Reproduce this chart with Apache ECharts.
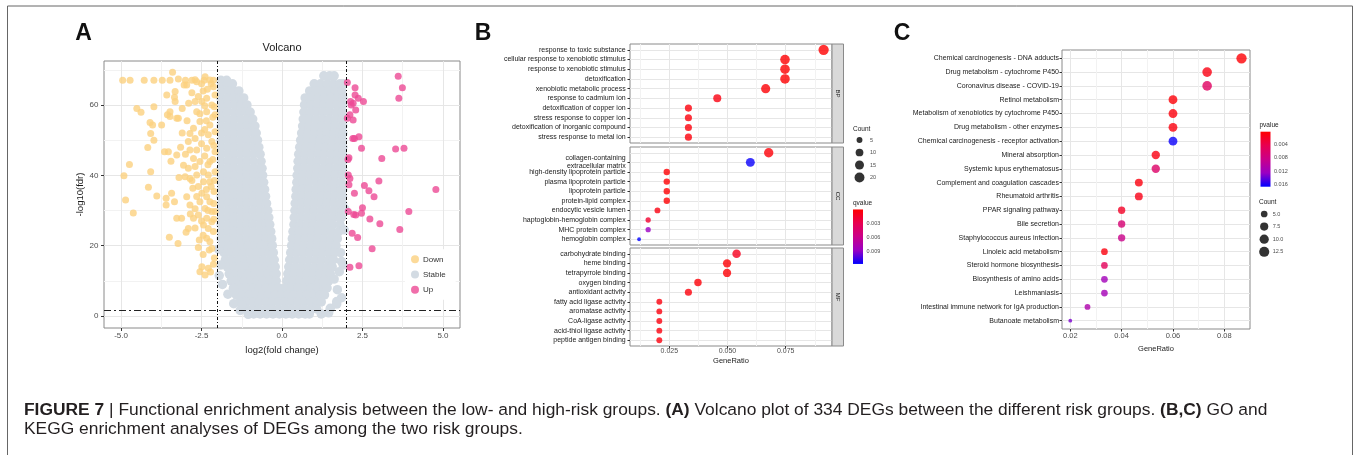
<!DOCTYPE html>
<html><head><meta charset="utf-8">
<script src="https://cdn.jsdelivr.net/npm/echarts@6/dist/echarts.min.js"></script>
<style>html,body{margin:0;padding:0;background:#fff}#c{width:1354px;height:455px}</style>
</head><body><div id="c"></div>
<script>
// ---------------- Panel A : volcano ----------------
const volcanoXTicks = [-5, -2.5, 0, 2.5, 5];
const volcanoXMinor = [-3.75, -1.25, 1.25, 3.75];
const volcanoYTicks = [0, 20, 40, 60];
const volcanoYMinor = [10, 30, 50, 70];
const fcCutoff = [-2, 2];
const fdrCutoff = 1.6;
const groupNames = ['Down', 'Stable', 'Up'];

const downPoints = [
[-4.95,67],[-4.72,67],[-4.28,67],[-3.98,67],[-3.72,67],[-3.48,67],[-3.22,67.4],[-3.0,67],[-2.8,67],[-2.7,67.2],[-2.42,67],[-2.13,67],[-3.4,69.3],[-2.96,65.7],[-2.65,66.6],[-2.39,68],[-2.2,66],
[-4.51,59],[-4.38,57.9],[-3.98,59.5],[-4.1,55],[-4.02,54.3],[-3.74,54.3],[-4.08,51.9],[-3.98,50],[-4.17,47.9],[-3.65,46.7],[-3.53,46.7],[-3.27,45.8],[-3.45,44],[-4.74,43.1],[-4.91,39.9],[-4.08,41],[-4.15,36.6],[-3.89,34.1],[-4.86,33],[-4.62,29.3],[-3.6,33.5],[-3.6,31.6],[-3.34,32.5],[-3.43,34.9],[-3.27,27.8],[-3.12,27.8],[-3.5,22.4],[-3.23,20.6],
[-3.58,62.8],[-3.34,62.2],[-3.32,61],[-3.48,58.1],[-3.56,57.2],[-3.48,56.7],[-3.27,56.2],[-3.22,56.2],[-3.32,63.8],[-3.04,65.7],
[-2.86,39.1],[-3.01,39.6],[-3.2,39.4],[-3.06,42.9],[-2.91,42],[-2.77,36.3],[-2.96,33.9],[-2.86,31.6],[-2.75,27.8],[-2.91,24.9],[-2.98,23.8],
[-2.55,12.6],[-2.29,13.6],[-2.39,11.7],[-2.49,14],[-2.13,14.7],[-2.26,18.8],[-2.18,19.2],[-2.57,21.6],[-2.34,22.1],
[-2.7,61],[-2.6,62.4],[-2.49,61],[-2.34,61.9],[-2.65,58.1],[-2.55,55.3],[-2.75,53.4],[-2.86,51.9],[-2.7,50.5],[-2.91,49.6],[-2.86,47.2],[-2.65,47.2],[-2.75,44.8],[-2.55,43.9],[-2.44,41],[-2.65,40.1],[-2.44,38.2],[-2.6,36.8],[-2.49,34.9],[-2.34,33.9],[-2.55,32.5],[-2.39,30.6],[-2.6,28.7],[-2.34,27.8],[-2.44,25.9],[-2.29,24.9],[-2.13,24],[-2.18,26.8],[-2.08,29.7],[-2.24,32.5],[-2.11,35.4],[-2.24,38.2],[-2.08,41],[-2.24,43.9],[-2.08,46.7],[-2.18,49.6],[-2.08,52.4],[-2.24,54.3],[-2.08,57.2],[-2.18,60],[-2.08,62.8],[-2.13,65.2],[-2.24,67.1],[-2.34,58.1],[-2.29,51.5],[-2.34,47.7],[-2.29,40.1],[-2.18,29.7],[-2.24,21.1],
[-2.1,16.5],[-2.45,17.5],[-2.6,19.5],[-2.15,44.5],[-2.4,45.5],[-2.5,49],[-2.4,53],[-2.55,57.5],[-2.45,64],[-2.8,63.5],[-2.9,60.5],[-3.1,59],[-2.95,55.5],[-3.1,52],[-3.15,48],[-3.0,46],[-2.7,42.5],[-2.8,38.5],[-2.65,34],[-2.7,30.5],[-2.85,29],[-2.5,27],[-2.7,25],[-2.35,36],[-2.15,56.5],[-2.12,32],[-2.32,64.5],[-2.1,38.5],[-2.3,43],[-2.12,48.5],[-2.35,55.5],[-2.1,59.5],[-2.4,59.8],[-2.5,52],[-2.2,36.8],[-2.45,23],[-2.3,30],[-2.12,27.5],[-2.22,12.5],[-2.5,66]
];

const upPoints = [
[3.61,68.2],[3.74,64.9],[3.63,61.9],[2.03,66.4],[2.27,64.9],[2.27,62.8],[2.37,61.9],[2.53,61],[2.13,61],[2.21,60.5],[2.29,58.6],[2.11,57.2],[2.21,55.7],[2.03,56.2],[2.25,50.5],[2.39,51],[2.47,47.7],[3.53,47.5],[3.79,47.7],[3.1,44.8],[2.08,45],[2.06,40.1],[2.11,39.1],[3.01,38.4],[2.56,37.1],[2.7,35.6],[2.86,33.9],[2.25,34.9],[2.08,37.3],[4.78,36],[3.94,29.7],[2.06,29.7],[2.23,28.9],[2.29,28.7],[2.5,30.8],[2.47,29.2],[2.73,27.6],[3.04,26.2],[3.66,24.6],[2.18,23.5],[2.35,22.3],[2.8,19.1],[2.11,13.9],[2.39,14.3],[2.15,60],[2.05,44.5],[2.2,50.5]
];

const stableRows = [
[68.3, 1.3, 1.48, 1.62],
[67, -1.9, -1.72],
[66, -1.88, -1.7, -1.54, 1.0, 1.2, 1.41, 1.6, 1.8, 1.9],
[64, -1.88, -1.67, -1.48, -1.34, 0.86, 1.05, 1.26, 1.45, 1.66, 1.86],
[62, -1.9, -1.7, -1.5, -1.31, -1.19, 0.72, 0.92, 1.12, 1.31, 1.52, 1.72, 1.89],
[60, -1.87, -1.68, -1.47, -1.27, -1.09, 0.7, 0.9, 1.1, 1.3, 1.49, 1.7, 1.88],
[58, -1.89, -1.7, -1.49, -1.3, -1.1, -0.99, 0.68, 0.88, 1.08, 1.27, 1.48, 1.68, 1.87],
[56, -1.88, -1.68, -1.48, -1.28, -1.08, -0.91, 0.66, 0.86, 1.06, 1.26, 1.46, 1.66, 1.86],
[54, -1.89, -1.69, -1.49, -1.29, -1.09, -0.9, -0.84, 0.64, 0.84, 1.04, 1.24, 1.44, 1.64, 1.84, 1.89],
[52, -1.88, -1.68, -1.48, -1.28, -1.08, -0.88, -0.8, 0.61, 0.81, 1.01, 1.21, 1.41, 1.61, 1.81, 1.89],
[50, -1.89, -1.69, -1.49, -1.29, -1.09, -0.89, -0.76, 0.58, 0.78, 0.98, 1.18, 1.38, 1.58, 1.78, 1.88],
[48, -1.88, -1.68, -1.48, -1.28, -1.08, -0.88, -0.72, 0.55, 0.75, 0.95, 1.15, 1.35, 1.55, 1.75, 1.89],
[46, -1.89, -1.69, -1.49, -1.29, -1.09, -0.89, -0.68, 0.52, 0.72, 0.92, 1.12, 1.32, 1.52, 1.72, 1.88],
[44, -1.88, -1.68, -1.48, -1.28, -1.08, -0.88, -0.65, 0.5, 0.7, 0.9, 1.1, 1.3, 1.5, 1.7, 1.89],
[42, -1.89, -1.69, -1.49, -1.29, -1.09, -0.89, -0.7, -0.62, 0.49, 0.68, 0.88, 1.08, 1.28, 1.48, 1.68, 1.88],
[40, -1.88, -1.68, -1.48, -1.28, -1.08, -0.88, -0.68, -0.6, 0.47, 0.66, 0.86, 1.06, 1.26, 1.46, 1.66, 1.86, 1.89],
[38, -1.89, -1.69, -1.49, -1.29, -1.09, -0.89, -0.69, -0.57, 0.46, 0.65, 0.85, 1.05, 1.25, 1.45, 1.65, 1.85],
[36, -1.88, -1.68, -1.48, -1.28, -1.08, -0.88, -0.68, -0.54, 0.44, 0.64, 0.84, 1.04, 1.24, 1.44, 1.64, 1.84, 1.89],
[34, -1.89, -1.69, -1.49, -1.29, -1.09, -0.89, -0.69, -0.51, 0.43, 0.63, 0.83, 1.03, 1.23, 1.43, 1.63, 1.83, 1.88],
[32, -1.88, -1.68, -1.48, -1.28, -1.08, -0.88, -0.68, -0.48, 0.41, 0.61, 0.81, 1.01, 1.21, 1.41, 1.61, 1.81, 1.88],
[30, -1.89, -1.69, -1.49, -1.29, -1.09, -0.89, -0.69, -0.49, -0.44, 0.4, 0.6, 0.8, 1.0, 1.2, 1.4, 1.6, 1.8, 1.87],
[28, -1.88, -1.68, -1.48, -1.28, -1.08, -0.88, -0.68, -0.48, -0.41, 0.38, 0.58, 0.78, 0.98, 1.18, 1.38, 1.58, 1.78, 1.85],
[26, -1.89, -1.69, -1.49, -1.29, -1.09, -0.89, -0.69, -0.49, -0.38, 0.37, 0.57, 0.77, 0.97, 1.17, 1.37, 1.57, 1.8],
[24, -1.88, -1.68, -1.48, -1.28, -1.08, -0.88, -0.68, -0.48, -0.35, 0.34, 0.54, 0.74, 0.94, 1.14, 1.34, 1.54, 1.76],
[22, -1.89, -1.69, -1.49, -1.29, -1.09, -0.89, -0.69, -0.49, -0.32, 0.32, 0.52, 0.72, 0.92, 1.12, 1.32, 1.52, 1.72],
[20, -1.85, -1.65, -1.45, -1.25, -1.05, -0.85, -0.65, -0.45, -0.3, 0.3, 0.5, 0.7, 0.9, 1.1, 1.3, 1.5, 1.68],
[18, -1.8, -1.6, -1.4, -1.2, -1.0, -0.8, -0.6, -0.4, -0.27, 0.27, 0.47, 0.67, 0.87, 1.07, 1.27, 1.47, 1.64],
[16, -1.76, -1.56, -1.36, -1.16, -0.96, -0.76, -0.56, -0.36, -0.24, 0.24, 0.44, 0.64, 0.84, 1.04, 1.24, 1.44, 1.6],
[14, -1.7, -1.5, -1.3, -1.1, -0.9, -0.7, -0.5, -0.3, -0.21, 0.21, 0.41, 0.61, 0.81, 1.01, 1.21, 1.41, 1.56],
[12, -1.64, -1.44, -1.24, -1.04, -0.84, -0.64, -0.44, -0.24, -0.18, 0.18, 0.38, 0.58, 0.78, 0.98, 1.18, 1.38, 1.5],
[10, -1.58, -1.38, -1.18, -0.98, -0.78, -0.58, -0.38, -0.18, 0.15, 0.35, 0.55, 0.75, 0.95, 1.15, 1.35, 1.45],
[8, -1.5, -1.3, -1.1, -0.9, -0.7, -0.5, -0.3, -0.1, 0.1, 0.3, 0.5, 0.7, 0.9, 1.1, 1.3, 1.4],
[6, -1.42, -1.22, -1.02, -0.82, -0.62, -0.42, -0.22, -0.02, 0.18, 0.38, 0.58, 0.78, 0.98, 1.18, 1.32],
[4, -1.3, -1.1, -0.9, -0.7, -0.5, -0.3, -0.1, 0.1, 0.3, 0.5, 0.7, 0.9, 1.1, 1.22],
[2, -1.12, -0.92, -0.72, -0.52, -0.32, -0.12, 0.08, 0.28, 0.48, 0.68, 0.88, 1.08],
[0.6, -0.88, -0.68, -0.48, -0.28, -0.08, 0.12, 0.32, 0.52, 0.72, 0.85]
];
const stableExtra = [
[1.62,10.5],[1.72,7.5],[1.85,5.2],[1.7,3.4],[1.5,2.2],[1.45,0.9],[1.22,0.6],[-1.5,3.5],[-1.68,6.2],[-1.85,9],[-1.3,1.6],[-1.05,0.5],
[1.93,24.5],[1.9,14.5],[1.82,18],[1.95,30.5],[-1.95,11.5],[-1.9,14.5],[-1.97,19],[1.78,12.6],[1.7,4.1],[1.28,9.8],[1.85,15.5],[-1.51,7.9],[-1.25,3.1]
];

// ---------------- Panel B : GO dot plot ----------------
const bpTerms = ['response to toxic substance','cellular response to xenobiotic stimulus','response to xenobiotic stimulus','detoxification','xenobiotic metabolic process','response to cadmium ion','detoxification of copper ion','stress response to copper ion','detoxification of inorganic compound','stress response to metal ion'];
const bpRatio = [0.0913,0.0747,0.0747,0.0747,0.0664,0.0456,0.0332,0.0332,0.0332,0.0332];
const bpCount = [22,18,18,18,16,11,8,8,8,8];
const bpQ = [0.00002,0.0001,0.0001,0.0001,0.0002,0.0006,0.0004,0.0004,0.0004,0.0004];

const ccTerms = ['blood microparticle','collagen-containing\nextracellular matrix','high-density lipoprotein particle','plasma lipoprotein particle','lipoprotein particle','protein-lipid complex','endocytic vesicle lumen','haptoglobin-hemoglobin complex','MHC protein complex','hemoglobin complex'];
const ccRatio = [0.0677,0.0598,0.0239,0.0239,0.0239,0.0239,0.0199,0.0159,0.0159,0.0120];
const ccCount = [17,15,6,6,6,6,5,4,4,3];
const ccQ = [0.0003,0.0116,0.0001,0.0001,0.0001,0.0001,0.0006,0.0017,0.0088,0.0118];

const mfTerms = ['carbohydrate binding','heme binding','tetrapyrrole binding','oxygen binding','antioxidant activity','fatty acid ligase activity','aromatase activity','CoA-ligase activity','acid-thiol ligase activity','peptide antigen binding'];
const mfRatio = [0.0539,0.0498,0.0498,0.0373,0.0332,0.0207,0.0207,0.0207,0.0207,0.0207];
const mfCount = [13,12,12,9,8,5,5,5,5,5];
const mfQ = [0.0011,0.0002,0.0002,0.0003,0.0004,0.0005,0.0005,0.0005,0.0005,0.0005];

const goFacets = ['BP','CC','MF'];
const goXTicks = [0.025, 0.05, 0.075];
const goXMinor = [0.0125, 0.0375, 0.0625, 0.0875];
const qvalueRange = [0, 0.0118];
const qvalueTicks = [0.003, 0.006, 0.009];
const goCountBreaks = [5, 10, 15, 20];

// ---------------- Panel C : KEGG dot plot ----------------
const keggTerms = ['Chemical carcinogenesis - DNA adducts','Drug metabolism - cytochrome P450','Coronavirus disease - COVID-19','Retinol metabolism','Metabolism of xenobiotics by cytochrome P450','Drug metabolism - other enzymes','Chemical carcinogenesis - receptor activation','Mineral absorption','Systemic lupus erythematosus','Complement and coagulation cascades','Rheumatoid arthritis','PPAR signaling pathway','Bile secretion','Staphylococcus aureus infection','Linoleic acid metabolism','Steroid hormone biosynthesis','Biosynthesis of amino acids','Leishmaniasis','Intestinal immune network for IgA production','Butanoate metabolism'];
const keggRatio = [0.0867,0.0733,0.0733,0.06,0.06,0.06,0.06,0.0533,0.0533,0.0467,0.0467,0.04,0.04,0.04,0.0333,0.0333,0.0333,0.0333,0.0267,0.02];
const keggCount = [13,11,11,9,9,9,9,8,8,7,7,6,6,6,5,5,5,5,4,3];
const keggP = [0.0005,0.0012,0.0055,0.0006,0.0008,0.0010,0.0163,0.0012,0.0060,0.0010,0.0014,0.0022,0.0068,0.0085,0.0010,0.0050,0.0118,0.0116,0.0108,0.0133];
const keggXTicks = [0.02, 0.04, 0.06, 0.08];
const keggXMinor = [0.03, 0.05, 0.07];
const pvalueRange = [0.00026, 0.0166];
const pvalueTicks = [0.004, 0.008, 0.012, 0.016];
const keggCountBreaks = [5, 7.5, 10, 12.5];

// ---------------- build ----------------
const FONT = '"Liberation Sans", Arial, Helvetica, sans-serif';
const GRAD = ['#ff0000','#e80050','#ca0089','#9a00c3','#0000ff'];
const BORDER = '#8a8a8a', MAJOR = '#e6e6e6', MINOR = '#f2f2f2', TICKTXT = '#4d4d4d';
const NOLINE = {show:false, onZero:false};

const stablePoints = [];
stableRows.forEach(r => { for (let i = 1; i < r.length; i++) stablePoints.push([r[i], r[0]]); });
stableExtra.forEach(p => stablePoints.push(p));

function sizeScale(counts){
  const mn = Math.min(...counts), mx = Math.max(...counts);
  return c => 2.5 + 1.3 * (1 + 5 * Math.sqrt(Math.max(0, (c - mn) / (mx - mn))));
}
const goAll = bpCount.concat(ccCount, mfCount);
const sizeB = sizeScale(goAll);
const sizeC = sizeScale(keggCount);

function rowsData(ratio, count, q){ return ratio.map((r, i) => [r, i, count[i], q[i]]); }

function hidden(extra){ return Object.assign({axisLine:NOLINE, axisTick:{show:false}, axisLabel:{show:false}, splitLine:{show:false}}, extra); }

function majorX(grid, min, max, ticks, showLabels, fmt, extra){
  return Object.assign({
    gridIndex:grid, type:'value', min:min, max:max,
    axisLine:NOLINE,
    axisTick:{show:showLabels, customValues:ticks, length:2.5, lineStyle:{color:'#333'}},
    axisLabel:{show:showLabels, customValues:ticks, formatter:fmt, fontSize:7, color:TICKTXT, fontFamily:FONT, margin:1.8},
    splitLine:{show:true, lineStyle:{color:MAJOR, width:1}}
  }, extra || {});
}
function minorX(grid, min, max, ticks){
  return {gridIndex:grid, type:'value', min:min, max:max, axisLine:NOLINE, axisLabel:{show:false},
    axisTick:{show:false, customValues:ticks}, splitLine:{show:true, lineStyle:{color:MINOR, width:1}}};
}
function catY(grid, terms, margin){
  const idx = terms.map((t, i) => i);
  return {gridIndex:grid, type:'value', inverse:true, min:-0.6, max:terms.length - 0.4,
    axisLine:NOLINE,
    axisTick:{show:true, customValues:idx, length:2.5, lineStyle:{color:'#333'}},
    axisLabel:{show:true, customValues:idx, formatter:v => terms[Math.round(v)], fontSize:7, lineHeight:8, color:'#1a1a1a', fontFamily:FONT, margin:margin},
    splitLine:{show:true, lineStyle:{color:MAJOR, width:1}}};
}

const gridBase = {show:true, borderColor:BORDER, borderWidth:1, backgroundColor:'transparent', containLabel:false};
const Bleft = 630, Bwidth = 202;
const facetBox = [[44, 99], [147, 98], [248, 98]];

const grids = [
  Object.assign({left:104, top:61, width:356, height:267}, gridBase),          // 0 volcano
  Object.assign({left:Bleft, top:facetBox[0][0], width:Bwidth, height:facetBox[0][1]}, gridBase), // 1 BP
  Object.assign({left:Bleft, top:facetBox[1][0], width:Bwidth, height:facetBox[1][1]}, gridBase), // 2 CC
  Object.assign({left:Bleft, top:facetBox[2][0], width:Bwidth, height:facetBox[2][1]}, gridBase), // 3 MF
  Object.assign({left:1062, top:50, width:188, height:279}, gridBase),         // 4 KEGG
  {left:853, top:209.45, width:10, height:54.5, show:false},                    // 5 q colorbar
  {left:1260.5, top:131.7, width:10, height:55, show:false},                    // 6 p colorbar
  {left:850, top:133.75, width:19, height:50, show:false},                      // 7 B count legend
  {left:1256.7, top:207.7, width:15, height:50.4, show:false}                   // 8 C count legend
];

const xMinB = 0.0081, xMaxB = 0.0949, xMinC = 0.01677, xMaxC = 0.09;

const xAxes = [
  majorX(0, -5.53, 5.53, volcanoXTicks, true, v => v.toFixed(1), {
    axisLabel:{show:true, customValues:volcanoXTicks, formatter:v => v.toFixed(1), fontSize:8, color:TICKTXT, fontFamily:FONT, margin:4},
    axisTick:{show:true, customValues:volcanoXTicks, length:3, lineStyle:{color:'#333'}},
    name:'log2(fold change)', nameLocation:'middle', nameGap:13, nameTextStyle:{fontSize:9.5, color:'#1a1a1a', fontFamily:FONT}}),
  minorX(0, -5.53, 5.53, volcanoXMinor),
  majorX(1, xMinB, xMaxB, goXTicks, false, v => v.toFixed(3)),
  minorX(1, xMinB, xMaxB, goXMinor),
  majorX(2, xMinB, xMaxB, goXTicks, false, v => v.toFixed(3)),
  minorX(2, xMinB, xMaxB, goXMinor),
  majorX(3, xMinB, xMaxB, goXTicks, true, v => v.toFixed(3), {name:'GeneRatio', nameLocation:'middle', nameGap:11, nameTextStyle:{fontSize:7.5, color:'#1a1a1a', fontFamily:FONT}}),
  minorX(3, xMinB, xMaxB, goXMinor),
  majorX(4, xMinC, xMaxC, keggXTicks, true, v => v.toFixed(2), {
    axisLabel:{show:true, customValues:keggXTicks, formatter:v => v.toFixed(2), fontSize:7.5, color:TICKTXT, fontFamily:FONT, margin:3},
    name:'GeneRatio', nameLocation:'middle', nameGap:12, nameTextStyle:{fontSize:7.5, color:'#1a1a1a', fontFamily:FONT}}),
  minorX(4, xMinC, xMaxC, keggXMinor),
  hidden({gridIndex:5, type:'category', data:['q']}),
  hidden({gridIndex:6, type:'category', data:['p']}),
  hidden({gridIndex:7, type:'value', min:-1, max:1}),
  hidden({gridIndex:8, type:'value', min:-1, max:1})
];

const yAxes = [
  {gridIndex:0, type:'value', min:-3.4, max:72.5, axisLine:NOLINE,
   axisTick:{show:true, customValues:volcanoYTicks, length:3, lineStyle:{color:'#333'}},
   axisLabel:{show:true, customValues:volcanoYTicks, formatter:v => String(v), fontSize:8, color:TICKTXT, fontFamily:FONT, margin:5.5},
   splitLine:{show:true, lineStyle:{color:MAJOR, width:1}},
   name:'-log10(fdr)', nameLocation:'middle', nameGap:16, nameRotate:90, nameTextStyle:{fontSize:9.5, color:'#1a1a1a', fontFamily:FONT}},
  {gridIndex:0, type:'value', min:-3.4, max:72.5, axisLine:NOLINE, axisLabel:{show:false},
   axisTick:{show:false, customValues:volcanoYMinor}, splitLine:{show:true, lineStyle:{color:MINOR, width:1}}},
  catY(1, bpTerms, 4.3),
  catY(2, ccTerms, 4.3),
  catY(3, mfTerms, 4.3),
  catY(4, keggTerms, 3),
  {gridIndex:5, type:'value', inverse:true, min:qvalueRange[0], max:qvalueRange[1], position:'right',
   axisLine:NOLINE, splitLine:{show:false},
   axisTick:{show:true, inside:true, customValues:qvalueTicks, length:2.5, lineStyle:{color:'#fff'}},
   axisLabel:{show:true, customValues:qvalueTicks, formatter:v => v.toFixed(3), fontSize:5.5, color:TICKTXT, fontFamily:FONT, margin:3.5}},
  {gridIndex:6, type:'value', inverse:true, min:pvalueRange[0], max:pvalueRange[1], position:'right',
   axisLine:NOLINE, splitLine:{show:false},
   axisTick:{show:true, inside:true, customValues:pvalueTicks, length:2.5, lineStyle:{color:'#fff'}},
   axisLabel:{show:true, customValues:pvalueTicks, formatter:v => v.toFixed(3), fontSize:5.5, color:TICKTXT, fontFamily:FONT, margin:3.5}},
  {gridIndex:7, type:'value', inverse:true, min:-0.5, max:goCountBreaks.length - 0.5, position:'right',
   axisLine:NOLINE, splitLine:{show:false}, axisTick:{show:false},
   axisLabel:{show:true, customValues:goCountBreaks.map((c,i)=>i), formatter:v => String(goCountBreaks[Math.round(v)]), fontSize:5.5, color:TICKTXT, fontFamily:FONT, margin:1}},
  {gridIndex:8, type:'value', inverse:true, min:-0.5, max:keggCountBreaks.length - 0.5, position:'right',
   axisLine:NOLINE, splitLine:{show:false}, axisTick:{show:false},
   axisLabel:{show:true, customValues:keggCountBreaks.map((c,i)=>i), formatter:v => keggCountBreaks[Math.round(v)].toFixed(1), fontSize:5.5, color:TICKTXT, fontFamily:FONT, margin:1}}
];

const gradFill = {type:'linear', x:0, y:0, x2:0, y2:1, colorStops:GRAD.map((c, i) => ({offset:i / (GRAD.length - 1), color:c}))};

const series = [
  {type:'scatter', name:groupNames[1], xAxisIndex:0, yAxisIndex:0, data:stablePoints, symbolSize:9.5,
   itemStyle:{color:'#d3dbe3', opacity:1}, z:2, silent:true},
  {type:'scatter', name:groupNames[0], xAxisIndex:0, yAxisIndex:0, data:downPoints, symbolSize:7,
   itemStyle:{color:'#fbd17f', opacity:0.8}, z:3, silent:true},
  {type:'scatter', name:groupNames[2], xAxisIndex:0, yAxisIndex:0, data:upPoints, symbolSize:7,
   itemStyle:{color:'#ec4a95', opacity:0.8}, z:3, silent:true,
   markLine:{silent:true, symbol:'none', label:{show:false}, animation:false,
     data:[
       {xAxis:fcCutoff[0], lineStyle:{color:'#111', width:1, type:[3,2,1,2]}},
       {xAxis:fcCutoff[1], lineStyle:{color:'#111', width:1, type:[3,2,1,2]}},
       {yAxis:fdrCutoff, lineStyle:{color:'#222', width:1, type:[7,3,2,3]}}
     ]}},
  {type:'scatter', name:'go-BP', xAxisIndex:2, yAxisIndex:2, data:rowsData(bpRatio, bpCount, bpQ), symbolSize:v => sizeB(v[2]), z:4, silent:true},
  {type:'scatter', name:'go-CC', xAxisIndex:4, yAxisIndex:3, data:rowsData(ccRatio, ccCount, ccQ), symbolSize:v => sizeB(v[2]), z:4, silent:true},
  {type:'scatter', name:'go-MF', xAxisIndex:6, yAxisIndex:4, data:rowsData(mfRatio, mfCount, mfQ), symbolSize:v => sizeB(v[2]), z:4, silent:true},
  {type:'scatter', name:'kegg', xAxisIndex:8, yAxisIndex:5, data:rowsData(keggRatio, keggCount, keggP), symbolSize:v => sizeC(v[2]), z:4, silent:true},
  {type:'bar', name:'qbar', xAxisIndex:10, yAxisIndex:6, data:[qvalueRange[1]], barWidth:10, itemStyle:{color:gradFill}, silent:true, clip:true},
  {type:'bar', name:'pbar', xAxisIndex:11, yAxisIndex:7, data:[pvalueRange[1]], barWidth:10, itemStyle:{color:gradFill}, silent:true, clip:true},
  {type:'scatter', name:'goCountKey', xAxisIndex:12, yAxisIndex:8, data:goCountBreaks.map((c, i) => [0, i, c]), symbolSize:v => sizeB(v[2]), itemStyle:{color:'#000'}, silent:true},
  {type:'scatter', name:'keggCountKey', xAxisIndex:13, yAxisIndex:9, data:keggCountBreaks.map((c, i) => [0, i, c]), symbolSize:v => sizeC(v[2]), itemStyle:{color:'#000'}, silent:true}
];

function txt(x, y, text, size, extra){
  return Object.assign({type:'text', x:x, y:y, silent:true, z:50,
    style:Object.assign({text:text, fontSize:size, fontFamily:FONT, fill:'#1a1a1a', align:'left', verticalAlign:'middle', textAlign:'left', textVerticalAlign:'middle'}, extra && extra.style || {})},
    extra && extra.el || {});
}
const CAP = 17.4;
const graphics = [
  {type:'rect', silent:true, z:0, shape:{x:7.5, y:6, width:1345, height:470}, style:{fill:'none', stroke:'#666', lineWidth:1}},
  txt(83.5, 34, 'A', 23, {style:{fontWeight:'bold', fill:'#111', align:'center', textAlign:'center'}}),
  txt(483, 34, 'B', 23, {style:{fontWeight:'bold', fill:'#111', align:'center', textAlign:'center'}}),
  txt(902, 34, 'C', 23, {style:{fontWeight:'bold', fill:'#111', align:'center', textAlign:'center'}}),
  txt(282, 48, 'Volcano', 11, {style:{align:'center', textAlign:'center'}}),
  txt(853, 129, 'Count', 6.5),
  txt(853, 203, 'qvalue', 6.5),
  txt(1259.5, 125.7, 'pvalue', 6.5),
  txt(1259, 202.7, 'Count', 6.5),
  txt(24, 410, '{b|FIGURE 7} {n|| Functional enrichment analysis between the low- and high-risk groups. }{b|(A)}{n| Volcano plot of 334 DEGs between the different risk groups. }{b|(B,C)}{n| GO and}', CAP,
      {style:{fill:'#231f20', rich:{b:{fontWeight:'bold', fontSize:CAP, fontFamily:FONT, fill:'#231f20'}, n:{fontSize:CAP, fontFamily:FONT, fill:'#231f20'}}}}),
  txt(24, 429, 'KEGG enrichment analyses of DEGs among the two risk groups.', CAP, {style:{fill:'#231f20'}})
];
goFacets.forEach((f, i) => {
  const top = facetBox[i][0], h = facetBox[i][1];
  graphics.push({type:'rect', silent:true, z:5, shape:{x:Bleft + Bwidth, y:top, width:11.5, height:h}, style:{fill:'#d9d9d9', stroke:BORDER, lineWidth:1}});
  graphics.push(txt(Bleft + Bwidth + 5.75, top + h / 2, f, 6, {style:{align:'center', textAlign:'center'}, el:{rotation:-Math.PI / 2}}));
});

const option = {
  animation:false,
  backgroundColor:'#fff',
  textStyle:{fontFamily:FONT},
  grid:grids, xAxis:xAxes, yAxis:yAxes, series:series,
  visualMap:[
    {type:'continuous', show:false, seriesIndex:[3,4,5], dimension:3, min:qvalueRange[0], max:qvalueRange[1], inRange:{color:GRAD}},
    {type:'continuous', show:false, seriesIndex:[6], dimension:3, min:pvalueRange[0], max:pvalueRange[1], inRange:{color:GRAD}}
  ],
  legend:{data:groupNames, orient:'vertical', left:405, top:249.3, padding:[6,10,6,6], itemGap:7.2, itemWidth:8, itemHeight:8,
    icon:'circle', backgroundColor:'#fff', selectedMode:false, textStyle:{fontSize:8, color:'#333', fontFamily:FONT, padding:[0,0,0,-1]}},
  graphic:graphics
};
const chart = echarts.init(document.getElementById('c'));
chart.setOption(option);
</script></body></html>
